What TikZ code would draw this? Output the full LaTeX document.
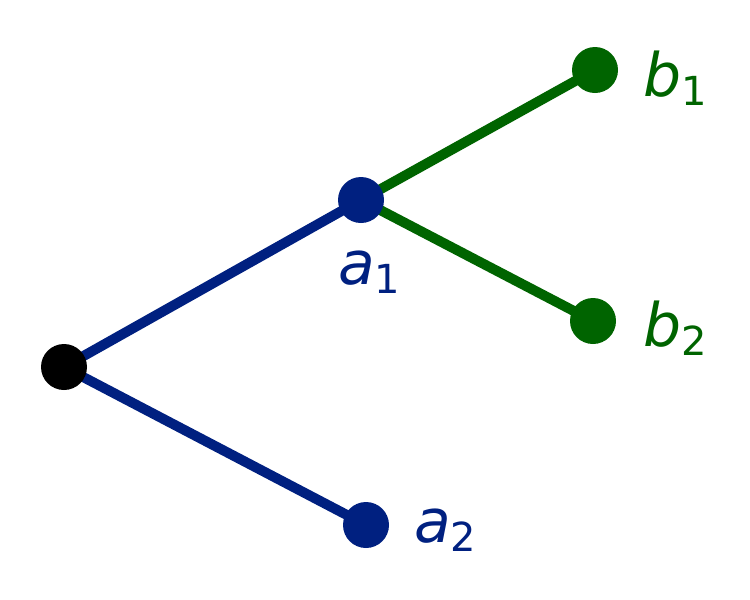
\documentclass[tikz,border=0pt]{standalone}
\usepackage{fontspec}
\setmainfont{DejaVu Sans}
\definecolor{navy}{RGB}{0,32,128}
\definecolor{dgreen}{RGB}{0,100,0}
\tikzset{x=1pt,y=-1pt,
 dot/.style={circle,fill=#1,minimum size=46pt,inner sep=0pt},
 edge/.style={line width=10pt,draw=#1},
 lab/.style={text=#1,font=\fontsize{60}{60}\selectfont\itshape,inner sep=0pt}}
\newcommand{\sublab}[2]{#1\raisebox{-9pt}{\fontsize{40}{40}\selectfont\upshape #2}}
\begin{document}
\begin{tikzpicture}
\useasboundingbox (0,0) rectangle (750,600);
\coordinate (r) at (64,367);
\coordinate (a1) at (361,200);
\coordinate (a2) at (366,525);
\coordinate (b1) at (595,70);
\coordinate (b2) at (593,321);
\draw[edge=navy] (r) -- (a1);
\draw[edge=navy] (r) -- (a2);
\draw[edge=dgreen] (a1) -- (b1);
\draw[edge=dgreen] (a1) -- (b2);
\node[dot=black] (n0) at (r) {};
\node[dot=navy] (n1) at (a1) {};
\node[dot=navy] (n2) at (a2) {};
\node[dot=dgreen] (n3) at (b1) {};
\node[dot=dgreen] (n4) at (b2) {};
\node[lab=navy,anchor=west] (l1) at (338,272) {\sublab{a}{1}};
\node[lab=navy,anchor=west] (l2) at (414,530) {\sublab{a}{2}};
\node[lab=dgreen,anchor=west] (l3) at (643,78) {\sublab{b}{1}};
\node[lab=dgreen,anchor=west] (l4) at (643,328) {\sublab{b}{2}};
\end{tikzpicture}
\end{document}
